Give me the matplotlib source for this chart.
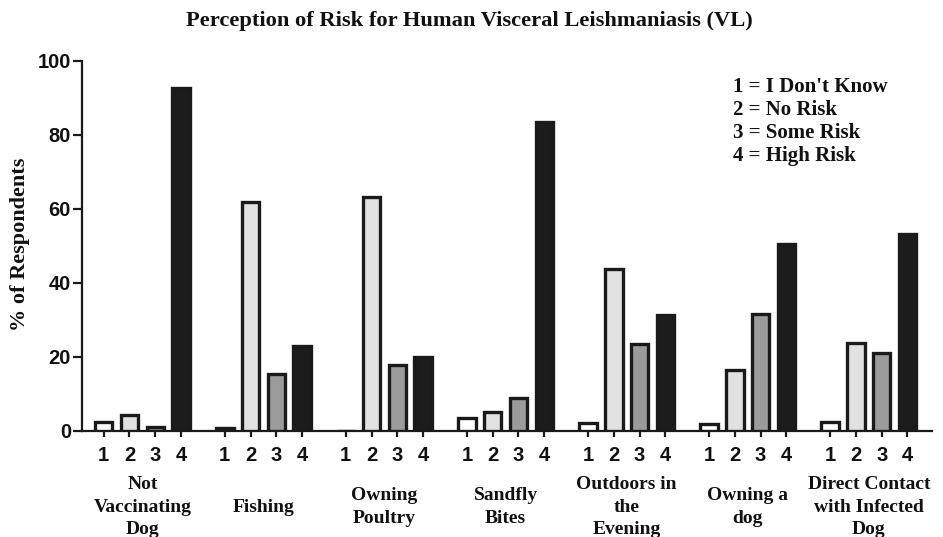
import numpy as np
import matplotlib
matplotlib.use("Agg")
import matplotlib.pyplot as plt
import matplotlib.transforms as mtransforms

# values (% of respondents)
categories = ["Not\nVaccinating\nDog", "Fishing", "Owning\nPoultry", "Sandfly\nBites",
              "Outdoors in\nthe\nEvening", "Owning a\ndog", "Direct Contact\nwith Infected\nDog"]
dont_know = [2.5, 0.7, 0.0, 3.4, 2.1, 1.9, 2.5]
no_risk = [4.3, 61.8, 63.2, 5.2, 43.8, 16.6, 23.9]
some_risk = [1.2, 15.5, 17.8, 8.8, 23.6, 31.7, 21.2]
high_risk = [92.8, 22.9, 20.0, 83.4, 31.3, 50.6, 53.3]
answer_codes = ["1", "2", "3", "4"]
legend_labels = ["1 = I Don't Know", "2 = No Risk", "3 = Some Risk", "4 = High Risk"]

series = [dont_know, no_risk, some_risk, high_risk]
fills = ["#ffffff", "#e1e1e1", "#9b9b9b", "#1c1c1c"]
edge = "#1a1a1a"
serif = "Liberation Serif"
sans = "Liberation Sans"

group_pitch = 4.69
bar_width = 0.68
n_groups = len(categories)

fig = plt.figure(figsize=(9.43, 5.37), dpi=100)
ax = fig.add_axes([82 / 943, 1 - 431 / 537, 850 / 943, 370 / 537])

for j, (vals, col) in enumerate(zip(series, fills)):
    x = np.arange(n_groups) * group_pitch + j
    ax.bar(x, vals, width=bar_width, color=col, edgecolor=edge, linewidth=2.4, zorder=3)
tick_pos = [g * group_pitch + j for g in range(n_groups) for j in range(4)]

ax.set_xlim(-0.84, (n_groups - 1) * group_pitch + 3 + 0.95)
ax.set_ylim(0, 100)
ax.set_yticks([0, 20, 40, 60, 80, 100])
ax.set_xticks(tick_pos)
ax.set_xticklabels(answer_codes * n_groups)

for side in ["top", "right"]:
    ax.spines[side].set_visible(False)
for side in ["left", "bottom"]:
    ax.spines[side].set_linewidth(1.6)
    ax.spines[side].set_color(edge)

ax.tick_params(axis="y", length=6.5, width=1.6, pad=1.5, color=edge)
ax.tick_params(axis="x", length=4.5, width=1.6, pad=6, color=edge)
for lab in ax.get_yticklabels() + ax.get_xticklabels():
    lab.set_fontfamily(sans)
    lab.set_fontweight("bold")
    lab.set_fontsize(14.5)
    lab.set_color("#111111")

# category names under each group
trans = mtransforms.blended_transform_factory(ax.transData, fig.transFigure)
for g, name in enumerate(categories):
    ax.text(g * group_pitch + 1.5, 1 - 507 / 537, name, transform=trans,
            ha="center", va="center", multialignment="center",
            fontsize=14, fontweight="bold", family=serif, linespacing=1.45,
            color="#111111")

fig.text(20 / 943, 1 - 244 / 537, "% of Respondents", rotation=90,
         ha="center", va="center", fontsize=16, fontweight="bold",
         family=serif, color="#111111")

fig.text(469 / 943, 1 - 21 / 537, "Perception of Risk for Human Visceral Leishmaniasis (VL)",
         ha="center", va="center", fontsize=16.2, fontweight="bold",
         family=serif, color="#111111")

# key for answer codes
for i, lab in enumerate(legend_labels):
    fig.text(733 / 943, 1 - (87 + i * 23) / 537, lab, ha="left", va="center",
             fontsize=15, fontweight="bold", family=serif, color="#111111")

fig.savefig("out.png", dpi=100)
